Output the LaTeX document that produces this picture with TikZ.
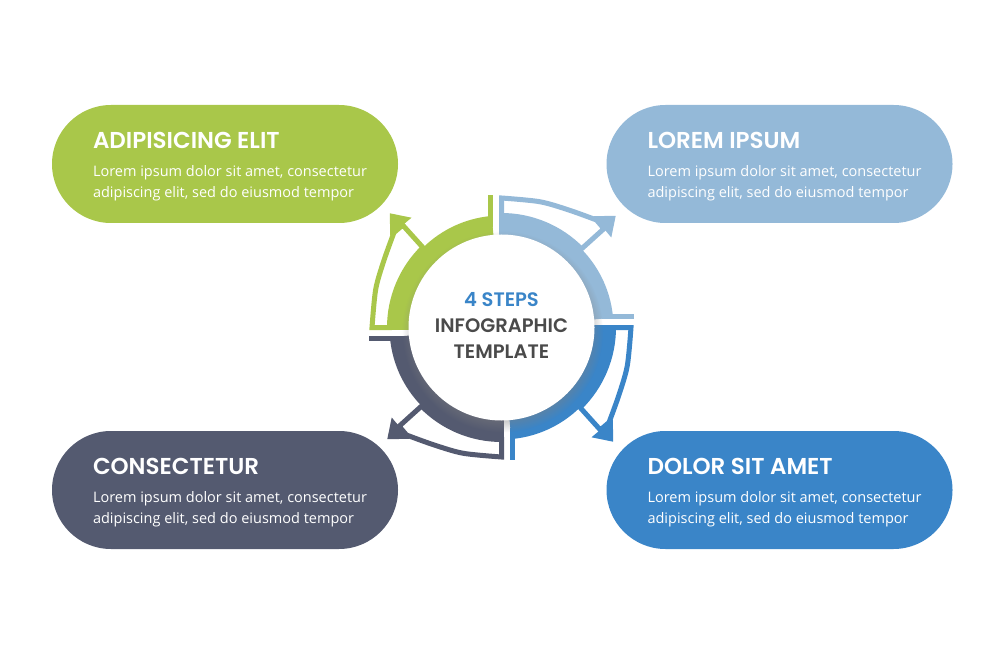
\documentclass[tikz,border=0pt]{standalone}
\usepackage{fontspec}
\setmainfont{Open Sans}
\newfontfamily\headfont{Poppins}[UprightFont={* SemiBold}]
\usetikzlibrary{shadows,fadings}
\definecolor{cgreen}{HTML}{A9C74A}
\definecolor{clight}{HTML}{94B9D8}
\definecolor{cdark}{HTML}{3A85C8}
\definecolor{cslate}{HTML}{545A70}
\definecolor{ctext}{HTML}{4A4A4A}

\begin{document}
\begin{tikzpicture}[
  x=1pt, y=1pt,
  pill/.style={rounded corners=59pt, minimum width=346pt, minimum height=118pt, inner sep=0pt},
  head/.style={font=\headfont\fontsize{23}{26}\selectfont, text=white, inner sep=0pt, anchor=base west},
  body/.style={font=\fontsize{14.5}{21}\selectfont, text=white, align=left, inner sep=0pt, anchor=base west},
  wall/.style={line width=5pt, line join=miter}
]
  \useasboundingbox (0,0) rectangle (1000,654);
  \coordinate (c) at (501.5,326.5);

  % ring segments, each with a hollow arrow
  \foreach \ang/\col in {0/cgreen, -90/clight, -180/cdark, -270/cslate}{
    \begin{scope}[shift={(c)}, rotate=\ang]
      \fill[\col] (95:80) arc[start angle=95, end angle=180, radius=80] -- (180:112) arc[start angle=180, end angle=95, radius=112] -- cycle;
      \draw[\col, wall] (-88,0) -- (-112,0);
      \draw[\col, wall, fill=white] (-112,0) -- (-129.5,0) -- plot[smooth] coordinates {(-129.5,0) (163:131.5) (150:135.5) (-107.5,95)} -- (-98.8,102.4) -- (134.5:112) arc[start angle=134.5, end angle=180, radius=112] -- cycle;
      \fill[\col] (-111.6,114.2) -- (-90,109.8) -- (-111.4,91.8) -- cycle;
      \draw[\col, wall] (-11,100) -- (-11,132.5);
    \end{scope}
  }

  % centre disc
  \node[circle, fill=white, minimum size=186pt, inner sep=0pt,
    circular drop shadow={shadow xshift=1pt, shadow yshift=-4pt, shadow scale=1.08, opacity=0.5}] (hub) at (c) {};
  \node[font=\headfont\fontsize{19.5}{26}\selectfont, text=ctext, align=center] (hubtext) at ([yshift=2]hub.center)
    {\textcolor{cdark}{4 STEPS}\\INFOGRAPHIC\\TEMPLATE};

  % text boxes
  \node[pill, fill=cgreen] (boxgreen) at (225,490) {};
  \node[pill, fill=clight] (boxlight) at (779.5,490) {};
  \node[pill, fill=cslate] (boxslate) at (225,164) {};
  \node[pill, fill=cdark] (boxdark) at (779.5,164) {};

  \node[head] (hgreen) at ([shift={(41,-44)}]boxgreen.north west) {ADIPISICING ELIT};
  \node[body] at ([yshift=-49]hgreen.base west) {Lorem ipsum dolor sit amet, consectetur\\adipiscing elit, sed do eiusmod tempor};
  \node[head] (hlight) at ([shift={(41,-44)}]boxlight.north west) {LOREM IPSUM};
  \node[body] at ([yshift=-49]hlight.base west) {Lorem ipsum dolor sit amet, consectetur\\adipiscing elit, sed do eiusmod tempor};
  \node[head] (hslate) at ([shift={(41,-44)}]boxslate.north west) {CONSECTETUR};
  \node[body] at ([yshift=-49]hslate.base west) {Lorem ipsum dolor sit amet, consectetur\\adipiscing elit, sed do eiusmod tempor};
  \node[head] (hdark) at ([shift={(41,-44)}]boxdark.north west) {DOLOR SIT AMET};
  \node[body] at ([yshift=-49]hdark.base west) {Lorem ipsum dolor sit amet, consectetur\\adipiscing elit, sed do eiusmod tempor};
\end{tikzpicture}
\end{document}
